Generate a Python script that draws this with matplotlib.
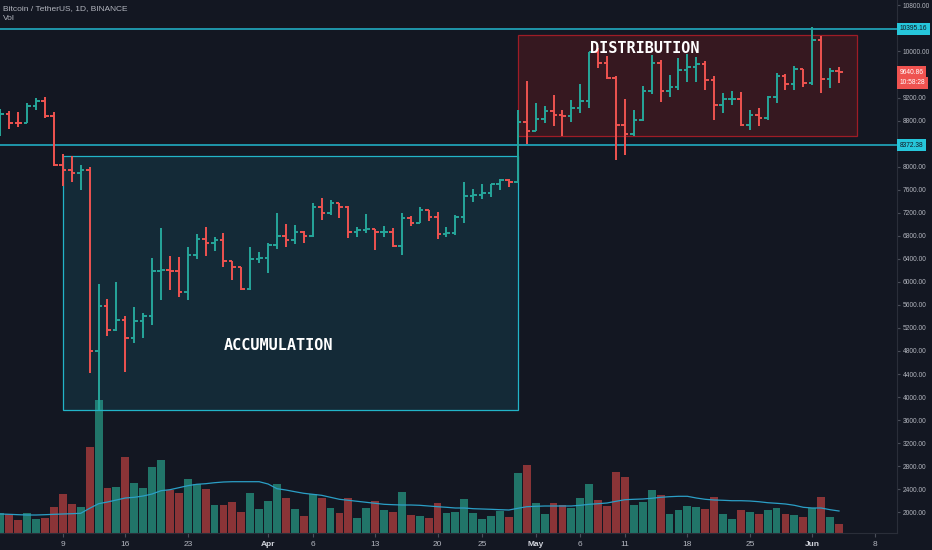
import matplotlib
matplotlib.use("Agg")
import matplotlib.pyplot as plt
import matplotlib.dates as mdates
import matplotlib.transforms as mtransforms
from matplotlib.patches import Rectangle
import pandas as pd

# BTC/USDT daily bars, 2 Mar - 4 Jun 2020
start = "2020-03-02"
opens = [8531, 8915, 8760, 8750, 9054, 9131, 8886, 8033, 7935, 7894, 7934, 4800, 5578, 5169, 5343,
         5033, 5324, 5406, 6181, 6207, 6186, 5816, 6469, 6744, 6681, 6735, 6368, 6253, 5882, 6394,
         6410, 6642, 6794, 6733, 6867, 6791, 7292, 7193, 7363, 7302, 6865, 6898, 6913, 6857, 6868,
         6621, 7101, 7030, 7248, 7125, 6830, 6850, 7125, 7482, 7505, 7539, 7696, 7774, 7738, 8778,
         8620, 8826, 8972, 8894, 8871, 9022, 9143, 9986, 9800, 9539, 8722, 8561, 8810, 9309, 9791,
         9316, 9381, 9680, 9733, 9775, 9511, 9068, 9170, 9179, 8720, 8900, 8841, 9204, 9575, 9427,
         9697, 9448, 10200, 9518, 9666]
highs = [9000, 8960, 8940, 9100, 9190, 9210, 8940, 8213, 8180, 8020, 7990, 5955, 5700, 5990, 5410,
         5565, 5455, 6420, 6930, 6456, 6428, 6600, 6835, 6957, 6780, 6842, 6368, 6265, 6599, 6523,
         6679, 7198, 7000, 6990, 6888, 7371, 7460, 7420, 7363, 7310, 6950, 7177, 6913, 6975, 6940,
         7190, 7149, 7293, 7254, 7220, 6944, 7155, 7740, 7615, 7705, 7700, 7793, 7780, 8980, 9480,
         9100, 9055, 9240, 8990, 9160, 9430, 9990, 10067, 9914, 9574, 9168, 8978, 9398, 9939, 9845,
         9588, 9888, 9950, 9897, 9842, 9578, 9271, 9310, 9298, 8979, 9017, 9225, 9625, 9605, 9740,
         9700, 10428, 10260, 9720, 9730]
lows = [8530, 8650, 8680, 8760, 8990, 8850, 8010, 7663, 7734, 7600, 4420, 3782, 5060, 5150, 4430,
        4930, 5020, 5250, 5680, 5860, 5734, 5688, 6393, 6450, 6530, 6253, 6030, 5857, 5857, 6321,
        6150, 6575, 6605, 6650, 6677, 6785, 7070, 7152, 7108, 6758, 6781, 6853, 6555, 6780, 6613,
        6463, 6967, 7019, 7055, 6752, 6781, 6818, 7020, 7388, 7431, 7467, 7600, 7653, 7710, 8401,
        8620, 8755, 8705, 8533, 8770, 8930, 9011, 9705, 9520, 8117, 8200, 8528, 8792, 9256, 9130,
        9207, 9330, 9464, 9474, 9326, 8815, 8933, 9070, 8700, 8633, 8700, 8811, 9110, 9330, 9331,
        9380, 9417, 9285, 9370, 9455]
closes = [8915, 8760, 8750, 9054, 9131, 8886, 8033, 7935, 7894, 7934, 4800, 5578, 5169, 5343, 5033,
          5324, 5406, 6181, 6207, 6186, 5816, 6469, 6744, 6681, 6735, 6368, 6253, 5882, 6394, 6410,
          6642, 6794, 6733, 6867, 6791, 7292, 7193, 7363, 7302, 6865, 6898, 6913, 6857, 6868, 6621,
          7101, 7030, 7248, 7125, 6830, 6850, 7125, 7482, 7505, 7539, 7696, 7774, 7738, 8778, 8620,
          8826, 8972, 8894, 8871, 9022, 9143, 9986, 9800, 9539, 8722, 8561, 8810, 9309, 9791, 9316,
          9381, 9680, 9733, 9775, 9511, 9068, 9170, 9179, 8720, 8900, 8841, 9204, 9575, 9427, 9697,
          9448, 10200, 9518, 9666, 9641]
# volume (chart units, no scale shown) and its moving average
volume = [19.7, 18.7, 13, 19.7, 14.3, 15.3, 26, 39, 29, 26.3, 86.3, 133, 45, 46.3, 75.7,
          50, 45, 66, 72.7, 43, 39.7, 54.3, 49, 43.7, 27.7, 27.7, 31, 21.3, 39.7, 24,
          32, 49, 34.7, 24, 17, 39, 34.7, 25.3, 20.3, 34.7, 15.3, 25.3, 32, 23, 20.7,
          41.3, 18, 17, 15, 29.7, 20.3, 20.7, 34, 20, 14.3, 16.7, 21.7, 15.7, 60.3, 68,
          30.3, 19.3, 29.7, 27.7, 25.3, 35, 48.7, 33, 27, 60.7, 56, 28.3, 31, 43, 38,
          19.3, 23, 27, 25.7, 24.3, 36, 19.3, 14.3, 23.3, 20.7, 19.3, 22.7, 25, 19, 18.3,
          16, 25, 36, 15.7, 9]
volume_ma = [19, 18.7, 18.3, 18, 18, 18.3, 18.7, 19, 19.3, 19.7, 24.7, 29.3, 31, 33, 35,
             35.7, 37, 39, 42.3, 43.3, 45.3, 47.3, 48.7, 49.3, 50.3, 51, 51.3, 51.3, 51.3, 51.3,
             49, 44.3, 43, 41.3, 39.7, 38.7, 37.7, 35.7, 33.7, 32.7, 31.7, 30.7, 29.7, 28.7, 28.3,
             28, 28, 27.7, 27, 26.3, 25.7, 25, 25, 24.3, 24, 23.7, 23.3, 23, 24.7, 26.3,
             26.7, 27, 27, 27, 27, 27.7, 28.7, 29.3, 30, 31.7, 33.3, 33.7, 34, 34.7, 35.7,
             36.3, 36.7, 36.7, 35, 33.7, 33, 32.7, 32.3, 32.3, 32, 31.3, 30.3, 29.7, 29, 27.7,
             25.7, 25, 25, 23.3, 22]

tick_dates = ["2020-03-09", "2020-03-16", "2020-03-23", "2020-04-01", "2020-04-06", "2020-04-13",
              "2020-04-20", "2020-04-25", "2020-05-01", "2020-05-06", "2020-05-11", "2020-05-18",
              "2020-05-25", "2020-06-01", "2020-06-08"]
tick_labels = ["9", "16", "23", "Apr", "6", "13", "20", "25", "May", "6", "11", "18", "25", "Jun", "8"]
price_ticks = [2000, 2400, 2800, 3200, 3600, 4000, 4400, 4800, 5200, 5600, 6000, 6400, 6800,
               7200, 7600, 8000, 8800, 9200, 10000, 10800]

resistance = 10395.16
support = 8372.38
last_price = 9640.86
countdown = "10:58:28"

bg = "#131722"
up = "#26a69a"
down = "#ef5350"
cyan = "#22b8cf"
txt = "#b2b5be"
narrow = ["Liberation Sans Narrow", "Liberation Sans", "DejaVu Sans"]

dates = pd.date_range(start, periods=len(closes), freq="D")
x = mdates.date2num(dates)
colors = [up if c >= o else down for o, c in zip(opens, closes)]
vol_colors = ["#217569" if c >= o else "#8a3437" for o, c in zip(opens, closes)]

fig = plt.figure(figsize=(9.32, 5.5), dpi=100, facecolor=bg)
ax = fig.add_axes([0, 17 / 550, 897 / 932, 533 / 550])
ax2 = ax.twinx()
ax.set_zorder(ax2.get_zorder() + 1)
ax.patch.set_visible(False)
ax2.set_facecolor(bg)

# volume pane
ax2.bar(x, volume, width=0.88, color=vol_colors, zorder=1)
ax2.plot(x, volume_ma, color="#2b9fc6", lw=0.9, zorder=2)
ax2.set_ylim(0, 533)
ax2.axis("off")

# zones
d0 = mdates.date2num(pd.Timestamp("2020-03-09"))
d1 = mdates.date2num(pd.Timestamp("2020-04-29"))
d2 = mdates.date2num(pd.Timestamp("2020-06-06"))
ax.add_patch(Rectangle((d0, 3770), d1 - d0, 8180 - 3770, facecolor=cyan, alpha=0.12,
                       edgecolor="none", zorder=1))
ax.add_patch(Rectangle((d0, 3770), d1 - d0, 8180 - 3770, facecolor="none",
                       edgecolor="#22b4c8", lw=0.9, zorder=2))
ax.add_patch(Rectangle((d1, 8526), d2 - d1, 10279 - 8526, facecolor="#b71c1c", alpha=0.22,
                       edgecolor="none", zorder=1))
ax.add_patch(Rectangle((d1, 8526), d2 - d1, 10279 - 8526, facecolor="none",
                       edgecolor="#9e1c26", lw=0.9, zorder=2))

ax.axhline(resistance, color=cyan, lw=1.1, zorder=2)
ax.axhline(support, color=cyan, lw=1.1, zorder=2)

# OHLC bars
ax.vlines(x, lows, highs, colors=colors, lw=1.4, zorder=3)
ax.hlines(opens, x - 0.4, x, colors=colors, lw=1.4, zorder=3)
ax.hlines(closes, x, x + 0.4, colors=colors, lw=1.4, zorder=3)

ax.text(pd.Timestamp("2020-04-02 05:00"), 4891, "ACCUMULATION", color="white", fontsize=11,
        fontweight="bold", family="DejaVu Sans Mono", ha="center", va="center", zorder=4)
ax.text(pd.Timestamp("2020-05-13 05:00"), 10048, "DISTRIBUTION", color="white", fontsize=11,
        fontweight="bold", family="DejaVu Sans Mono", ha="center", va="center", zorder=4)

ax.set_xlim(x[0] - 0.05, x[0] + 100.5)
ax.set_ylim(1640, 10893)

# axes styling
for side in ["top", "left"]:
    ax.spines[side].set_visible(False)
for side in ["right", "bottom"]:
    ax.spines[side].set_color("#2a2e39")
ax.yaxis.tick_right()
ax.set_yticks(price_ticks)
ax.set_yticklabels([f"{p:.2f}" for p in price_ticks], family=narrow)
ax.tick_params(axis="y", colors="#4a4e59", labelcolor=txt, labelsize=4.8, length=2.5, pad=1.5)
ax.set_xticks(mdates.date2num(pd.to_datetime(tick_dates)))
ax.set_xticklabels(tick_labels, family=narrow)
ax.tick_params(axis="x", colors="#4a4e59", labelcolor=txt, labelsize=6, length=3, pad=3)
for lbl in ax.get_xticklabels():
    if lbl.get_text() in ("Apr", "May", "Jun"):
        lbl.set_fontweight("bold")
        lbl.set_color("#d1d4dc")

# price labels on the scale
trans = mtransforms.blended_transform_factory(ax.transAxes, ax.transData)
for price, fc, tc in [(resistance, "#26c6da", bg), (support, "#26c6da", bg), (last_price, down, "white")]:
    ax.text(1.003, price, f"{price:.2f}", transform=trans, fontsize=4.8, family=narrow, color=tc,
            ha="left", va="center", clip_on=False, zorder=5,
            bbox=dict(boxstyle="square,pad=0.35", facecolor=fc, edgecolor="none"))
ax.annotate(countdown, xy=(1.003, last_price), xycoords=trans, xytext=(0, -7.6),
            textcoords="offset points", fontsize=4.8, family=narrow, color="white",
            ha="left", va="center", annotation_clip=False, zorder=5,
            bbox=dict(boxstyle="square,pad=0.35", facecolor=down, edgecolor="none"))

fig.text(3 / 932, 1 - 9 / 550, "Bitcoin / TetherUS, 1D, BINANCE", color=txt, fontsize=6,
         family=narrow, va="center")
fig.text(3 / 932, 1 - 19 / 550, "Vol", color=txt, fontsize=6, family=narrow, va="center")

fig.savefig("out.png", dpi=100, facecolor=bg)
